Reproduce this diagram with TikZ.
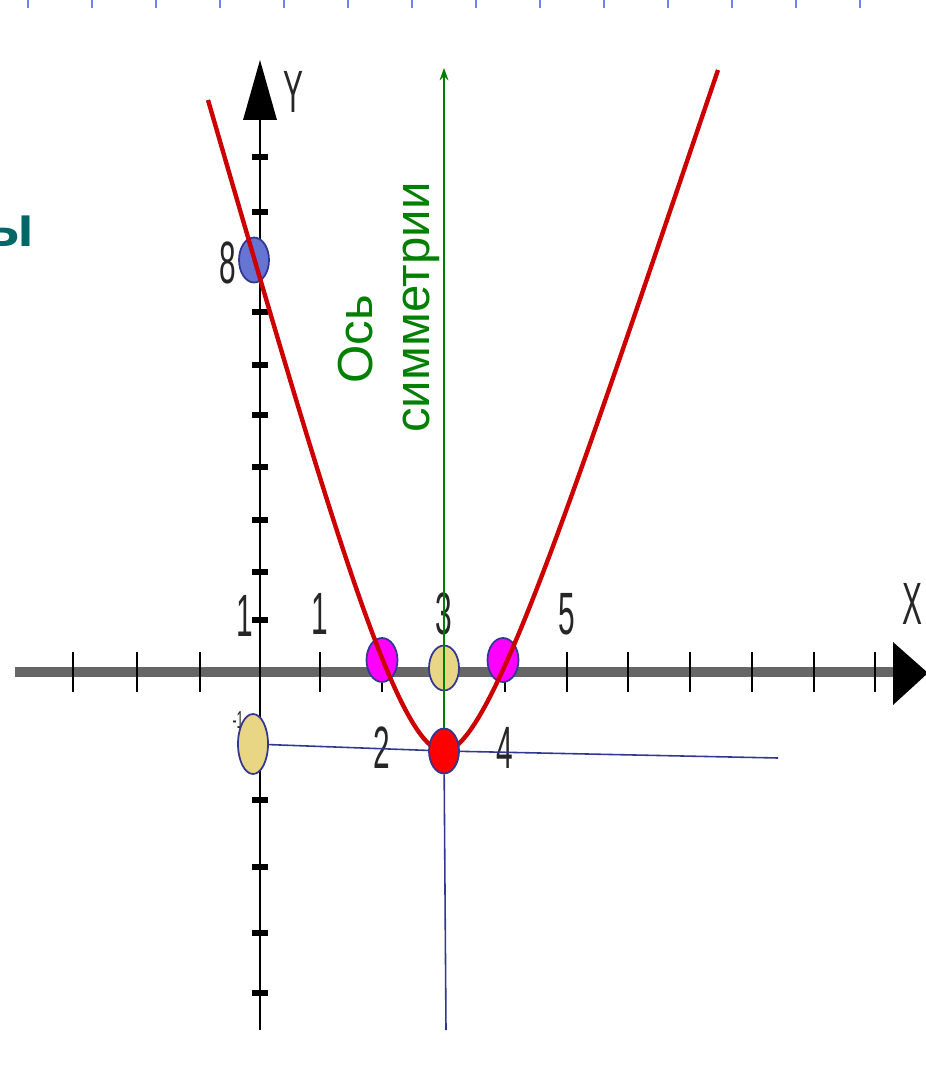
\documentclass[tikz,border=0pt]{standalone}
\usepackage{fontspec}
\setmainfont{Liberation Sans}
\usetikzlibrary{arrows.meta, shapes.geometric}
\definecolor{parabred}{RGB}{204, 0, 0}
\definecolor{symgreen}{RGB}{0, 128, 0}
\definecolor{guideblue}{RGB}{50, 55, 145}
\definecolor{titleteal}{RGB}{0, 102, 102}
\definecolor{dotblue}{RGB}{102, 116, 210}
\definecolor{dottan}{RGB}{233, 214, 132}
\definecolor{dotpink}{RGB}{255, 0, 255}
\definecolor{dotred}{RGB}{255, 0, 0}
\definecolor{tickblue}{RGB}{110, 130, 240}
\newcommand{\scanlbl}[1]{\scalebox{0.5}[1]{#1}}

\begin{document}
\begin{tikzpicture}[x=0.02cm, y=-0.02cm,
    dot/.style={ellipse, draw=guideblue, line width=1pt, inner sep=0pt,
                minimum width=0.6cm, minimum height=0.9cm},
    lbl/.style={font=\fontsize{34}{34}\selectfont, text=black!85, inner sep=0pt},
    guide/.style={guideblue, line width=0.9pt}]
  \useasboundingbox (0,0) rectangle (925,1070);
  % blue ticks along the top edge
  \foreach \x in {28,92,...,860}
    \draw[tickblue, line width=0.8pt] (\x,0) -- (\x,8);
  % scanned axes
  \draw[black!60, line width=5.6pt] (15,672) -- (898,672);
  \fill (893,642) -- (928,673) -- (893,705) -- cycle;
  \foreach \x in {73,137,200,320,382,444,505,567,628,690,752,814,875}
    \draw[line width=1.6pt] (\x,652) -- (\x,692);
  \draw[line width=1.7pt] (260,110) -- (260,1030);
  \fill (260,60) -- (277,120) -- (243,120) -- cycle;
  \foreach \y in {157,212,262,312,365,415,467,520,572,620,800,867,933,993}
    \draw[line width=3.2pt] (252,\y) -- (268,\y);
  \node[lbl] (ylbl) at (293,92) {\scanlbl{Y}};
  \node[lbl] (xlbl) at (912,604) {\scanlbl{X}};
  \node[lbl] (y8) at (228,263) {\scanlbl{8}};
  \node[lbl] (y1) at (245,616) {\scanlbl{1}};
  \node[lbl, font=\fontsize{14}{14}\selectfont] (ym1) at (238,720) {\scanlbl{-1}};
  \node[lbl] (x1) at (320,614) {\scanlbl{1}};
  \node[lbl] (x3) at (444,614) {\scanlbl{3}};
  \node[lbl] (x5) at (567,614) {\scanlbl{5}};
  \node[lbl] (x2) at (382,748) {\scanlbl{2}};
  \node[lbl] (x4) at (505,748) {\scanlbl{4}};
  % marked points
  \node[dot, fill=dotblue] (yint) at (254,260) {};
  \node[dot, fill=dotpink, minimum width=0.62cm, minimum height=0.88cm] (root2) at (382,660) {};
  \node[dot, fill=dotpink, minimum width=0.62cm, minimum height=0.88cm] (root4) at (503,660) {};
  \node[dot, fill=dottan] (axis3) at (444,668) {};
  \node[dot, fill=dottan, minimum height=1.2cm] (minus1) at (253,744) {};
  % parabola
  \coordinate (vtx) at (444,751);
  \draw[parabred, line width=2.5pt] (208,100) .. controls (330,520) and (398,752) .. (vtx)
        .. controls (490,752) and (575,490) .. (718,70);
  \node[dot, fill=dotred] (vertex) at (vtx) {};
  % guide lines through the vertex
  \coordinate (guideE) at (778,758);
  \coordinate (guideS) at (446,1030);
  \coordinate (symtop) at (444,68);
  \draw[guide] (minus1) -- (vertex) -- (guideE);
  \draw[guide] (vertex) -- (guideS);
  \draw[-{Stealth[length=7pt, width=5pt]}, symgreen, line width=1pt] (vertex) -- (symtop);
  \node[text=symgreen, font=\fontsize{28}{28}\selectfont, rotate=90,
        anchor=base west, inner sep=0pt] (osword) at (372,384) {Ось};
  \node[text=symgreen, font=\fontsize{28}{28}\selectfont, rotate=90,
        anchor=base west, inner sep=0pt] (symword) at (429,433) {симметрии};
  \node[text=titleteal, font=\bfseries\fontsize{33}{33}\selectfont,
        anchor=base east, inner sep=0pt] (title) at (34,247) {ы};
\end{tikzpicture}
\end{document}
